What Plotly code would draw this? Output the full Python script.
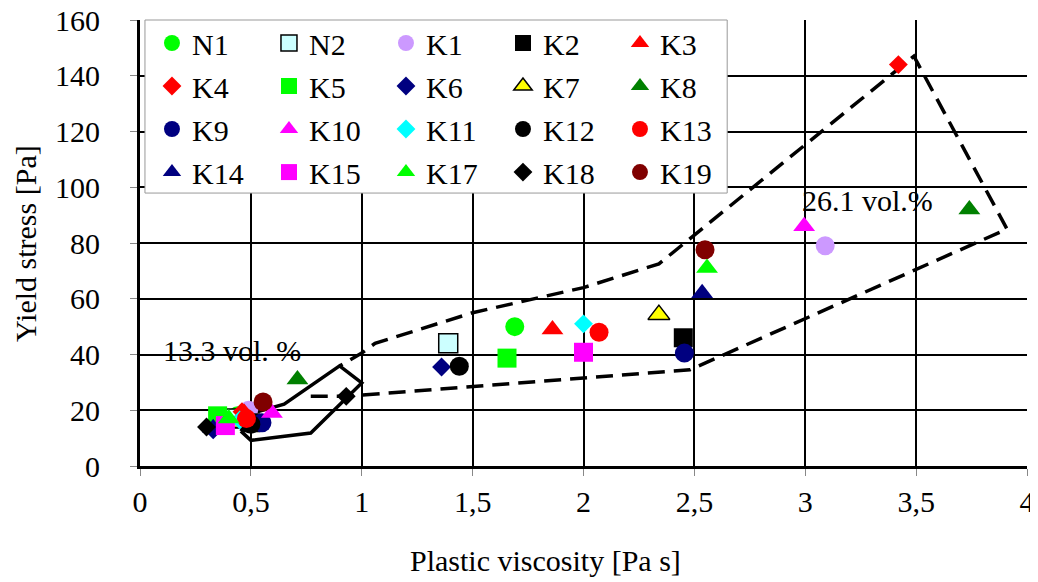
import plotly.graph_objects as go

# ---------------- data ----------------
names = ["N1", "N2", "K1", "K2", "K3", "K4", "K5", "K6", "K7", "K8",
         "K9", "K10", "K11", "K12", "K13", "K14", "K15", "K17", "K18", "K19"]
# 13.3 vol.% mixes (lower-left cluster)
visc_13 = [0.44, 0.42, 0.49, 0.50, 0.47, 0.46, 0.35, 0.33, 0.405, 0.71,
           0.55, 0.595, 0.45, 0.50, 0.48, 0.33, 0.385, 0.40, 0.30, 0.555]
yield_13 = [18, 17, 20, 15.5, 19, 19.5, 18, 13, 15.5, 31,
            15.5, 19, 16.5, 15, 17, 13.5, 14.5, 17, 14, 23]
# 26.1 vol.% mixes
visc_26 = [1.69, 1.39, 3.09, 2.45, 1.86, 3.42, 1.655, 1.36, 2.34, 3.74,
           2.455, 2.995, 2.0, 1.44, 2.07, 2.535, 2.0, 2.557, 0.93, 2.548]
yield_26 = [50, 44, 79, 46, 49, 144, 38.7, 35.5, 54.3, 92,
            40.5, 86, 51, 35.8, 48, 62, 40.8, 71, 25, 77.6]

# envelope outlines
env13_x = [0.455, 0.50, 0.77, 1.0, 0.90, 0.65, 0.51, 0.455]
env13_y = [12.5, 9.2, 11.8, 29.8, 35.9, 22.2, 19, 12.5]
env26_x = [0.77, 0.93, 2.48, 3.91, 3.49, 2.34, 2.0, 1.5, 1.06, 1.0, 0.90]
env26_y = [25, 25, 34.5, 85, 147, 72.5, 64, 55, 44, 40.5, 35.9]

x_tickvals = [0, 0.5, 1, 1.5, 2, 2.5, 3, 3.5, 4]
x_ticktext = ["0", "0,5", "1", "1,5", "2", "2,5", "3", "3,5", "4"]
y_tickvals = [0, 20, 40, 60, 80, 100, 120, 140, 160]

# ---------------- styles ----------------
colors = ["#00FF00", "#CCFFFF", "#CC99FF", "#000000", "#FF0000",
          "#FF0000", "#00FF00", "#000080", "#FFFF00", "#008000",
          "#000080", "#FF00FF", "#00FFFF", "#000000", "#FF0000",
          "#000080", "#FF00FF", "#00FF00", "#000000", "#800000"]
symbols = ["circle", "square", "circle", "square", "triangle-up",
           "diamond", "square", "diamond", "triangle-up", "triangle-up",
           "circle", "triangle-up", "diamond", "circle", "circle",
           "triangle-up", "square", "triangle-up", "diamond", "circle"]
outlined = ["N2", "K7"]
sym_size = {"circle": 19, "square": 19, "diamond": 14.5, "triangle-up": 19}

FONT = "Liberation Serif, Times New Roman, serif"

fig = go.Figure()

fig.add_trace(go.Scatter(x=env13_x, y=env13_y, mode="lines", showlegend=False,
                         line=dict(color="black", width=3.5), hoverinfo="skip"))
fig.add_trace(go.Scatter(x=env26_x, y=env26_y, mode="lines", showlegend=False,
                         line=dict(color="black", width=3.5, dash="17px,9px"),
                         hoverinfo="skip"))

legend_ids = ["legend", "legend2", "legend3", "legend4"]
for i, n in enumerate(names):
    fig.add_trace(go.Scatter(
        x=[visc_13[i], visc_26[i]], y=[yield_13[i], yield_26[i]],
        mode="markers", name=n, legend=legend_ids[i // 5],
        marker=dict(symbol=symbols[i], color=colors[i], size=sym_size[symbols[i]],
                    line=dict(color="black", width=1.5 if n in outlined else 0)),
    ))

row_y = [0.9484, 0.852, 0.7556, 0.659]
legend_common = dict(orientation="h", x=0.0135, xanchor="left", yanchor="middle",
                     bgcolor="rgba(0,0,0,0)", borderwidth=0,
                     font=dict(family=FONT, size=30, color="black"),
                     entrywidth=72, entrywidthmode="pixels", traceorder="normal")
layout_legends = {lid: dict(legend_common, y=row_y[k]) for k, lid in enumerate(legend_ids)}

fig.update_layout(
    template="none",
    width=1030, height=572,
    margin=dict(l=132, r=11, t=12, b=114, autoexpand=False),
    paper_bgcolor="white", plot_bgcolor="white",
    font=dict(family=FONT, size=30, color="black"),
    showlegend=True,
    **layout_legends,
    xaxis=dict(range=[0, 4], tickvals=x_tickvals, ticktext=x_ticktext,
               automargin=False, ticklabeloverflow="allow",
               showgrid=True, gridcolor="black", gridwidth=2,
               showline=True, linecolor="black", linewidth=3,
               zeroline=False, ticks="outside", ticklen=7, tickcolor="#888",
               tickwidth=1, ticklabelstandoff=0,
               tickfont=dict(family=FONT, size=30, color="black")),
    yaxis=dict(range=[0, 160], tickvals=y_tickvals,
               automargin=False, ticklabeloverflow="allow",
               showgrid=True, gridcolor="black", gridwidth=2,
               showline=True, linecolor="black", linewidth=3,
               zeroline=False, ticks="outside", ticklen=7, tickcolor="#888",
               tickwidth=1, ticklabelstandoff=24,
               tickfont=dict(family=FONT, size=30, color="black")),
    shapes=[
        dict(type="rect", xref="paper", yref="paper", x0=0.0056, x1=0.662,
             y0=0.612, y1=1.0, fillcolor="white", line=dict(color="#999", width=1),
             layer="above"),
        dict(type="rect", xref="paper", yref="paper", x0=0.003, x1=0.2232,
             y0=0.1413, y1=0.3318, fillcolor="white", line=dict(width=0),
             layer="between"),
        dict(type="rect", xref="paper", yref="paper", x0=0.7215, x1=0.921,
             y0=0.5628, y1=0.6726, fillcolor="white", line=dict(width=0),
             layer="between"),
    ],
    annotations=[
        dict(text="13.3 vol. %", xref="paper", yref="paper", x=0.1037, y=0.260,
             xanchor="center", yanchor="middle", showarrow=False,
             font=dict(family=FONT, size=30, color="black")),
        dict(text="26.1 vol.%", xref="paper", yref="paper", x=0.8207, y=0.5964,
             xanchor="center", yanchor="middle", showarrow=False,
             font=dict(family=FONT, size=30, color="black")),
        dict(text="Plastic viscosity [Pa s]", xref="paper", yref="paper",
             x=0.4577, y=-0.213, xanchor="center", yanchor="middle", showarrow=False,
             font=dict(family=FONT, size=30, color="black")),
        dict(text="Yield stress [Pa]", xref="paper", yref="paper",
             x=-0.1297, y=0.5, xanchor="center", yanchor="middle", showarrow=False,
             textangle=-90, font=dict(family=FONT, size=30, color="black")),
    ],
)

fig.write_html("out.html")
